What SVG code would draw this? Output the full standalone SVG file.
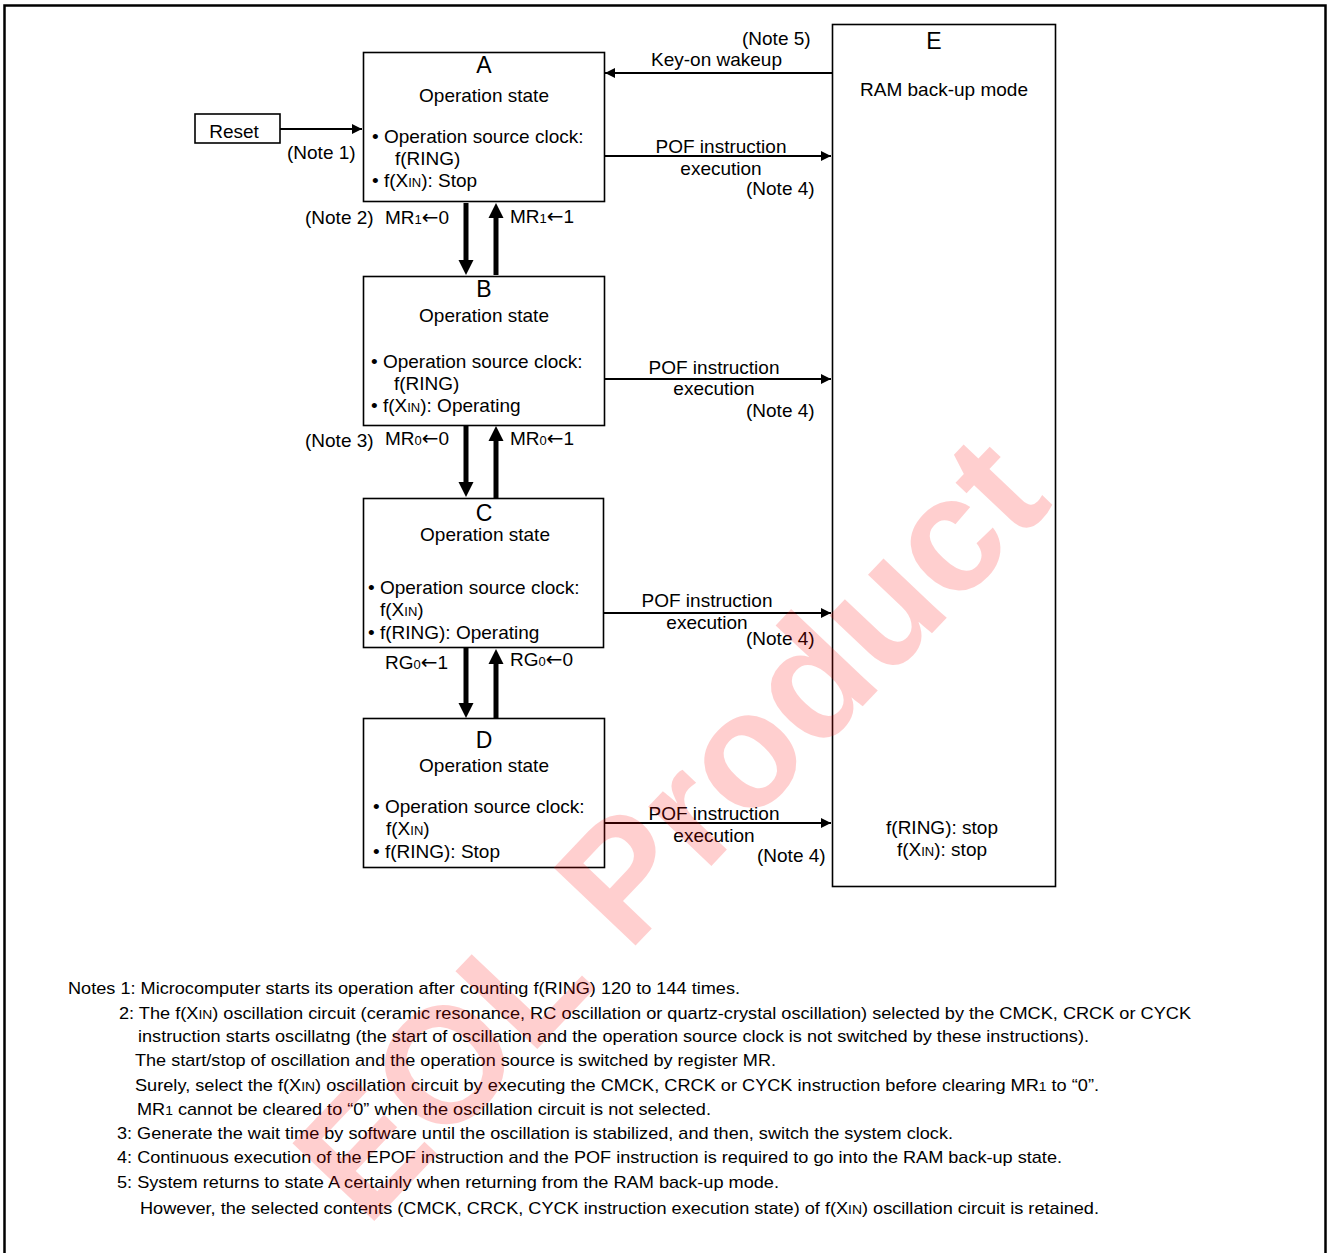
<svg xmlns="http://www.w3.org/2000/svg" width="1329" height="1253" viewBox="0 0 1329 1253">
<defs>
<style>
text{font-family:"Liberation Sans",Arial,sans-serif;font-size:19px;fill:#000}
.box{fill:#fff;stroke:#000;stroke-width:1.6}
.thin{stroke:#000;stroke-width:2;fill:none}
.thick{stroke:#000;stroke-width:5;fill:none}
.big{font-size:23px}
.c{text-anchor:middle}
.note{font-size:17px}
.sub{font-size:13px}
.arr{font-family:"DejaVu Sans",sans-serif;font-size:20px}
.wm{font-family:"Liberation Sans",Arial,sans-serif;font-weight:bold;font-size:164px;fill:#ff0000;fill-opacity:0.19}
</style>
<marker id="ah" markerUnits="userSpaceOnUse" markerWidth="12" markerHeight="10" refX="10" refY="5" orient="auto">
<path d="M0,0 L10,5 L0,10 Z" fill="#000"/>
</marker>
</defs>
<rect x="4.5" y="5.5" width="1321" height="1252" fill="#fff" stroke="#000" stroke-width="2.5"/>

<g id="connectors">
<line class="thin" x1="280" y1="129" x2="362" y2="129" marker-end="url(#ah)"/>
<line class="thin" x1="832" y1="73" x2="605" y2="73" marker-end="url(#ah)"/>
<line class="thin" x1="604" y1="156" x2="831" y2="156" marker-end="url(#ah)"/>
<line class="thin" x1="604" y1="379" x2="831" y2="379" marker-end="url(#ah)"/>
<line class="thin" x1="603" y1="613" x2="831" y2="613" marker-end="url(#ah)"/>
<line class="thin" x1="604" y1="823" x2="831" y2="823" marker-end="url(#ah)"/>
<line class="thick" x1="466" y1="203" x2="466" y2="261"/>
<path d="M458.5,260 L473.5,260 L466,275 Z"/>
<line class="thick" x1="496" y1="275" x2="496" y2="216"/>
<path d="M488.5,218 L503.5,218 L496,203 Z"/>
<line class="thick" x1="466" y1="426" x2="466" y2="483"/>
<path d="M458.5,482 L473.5,482 L466,497 Z"/>
<line class="thick" x1="496" y1="498" x2="496" y2="439"/>
<path d="M488.5,441 L503.5,441 L496,426 Z"/>
<line class="thick" x1="466" y1="648" x2="466" y2="704"/>
<path d="M458.5,703 L473.5,703 L466,718 Z"/>
<line class="thick" x1="496" y1="719" x2="496" y2="662"/>
<path d="M488.5,664 L503.5,664 L496,649 Z"/>
</g>

<g id="reset">
<rect class="box" x="195" y="114" width="85" height="29"/>
<text x="234" y="138" class="c">Reset</text>
</g>

<g id="stateA">
<rect class="box" x="363.5" y="52.5" width="241" height="149"/>
<text x="484" y="73" class="c big">A</text>
<text x="484" y="102" class="c">Operation state</text>
<text x="372" y="143">• Operation source clock:</text>
<text x="395" y="165">f(RING)</text>
<text x="372" y="187">• f(X<tspan class="sub">IN</tspan>): Stop</text>
</g>

<g id="stateB">
<rect class="box" x="363.5" y="276.5" width="241" height="149"/>
<text x="484" y="297" class="c big">B</text>
<text x="484" y="322" class="c">Operation state</text>
<text x="371" y="368">• Operation source clock:</text>
<text x="394" y="390">f(RING)</text>
<text x="371" y="412">• f(X<tspan class="sub">IN</tspan>): Operating</text>
</g>

<g id="stateC">
<rect class="box" x="363.5" y="498.5" width="240" height="149"/>
<text x="484" y="521" class="c big">C</text>
<text x="485" y="541" class="c">Operation state</text>
<text x="368" y="594">• Operation source clock:</text>
<text x="380" y="616">f(X<tspan class="sub">IN</tspan>)</text>
<text x="368" y="639">• f(RING): Operating</text>
</g>

<g id="stateD">
<rect class="box" x="363.5" y="718.5" width="241" height="149"/>
<text x="484" y="748" class="c big">D</text>
<text x="484" y="772" class="c">Operation state</text>
<text x="373" y="813">• Operation source clock:</text>
<text x="386" y="835">f(X<tspan class="sub">IN</tspan>)</text>
<text x="373" y="858">• f(RING): Stop</text>
</g>

<g id="stateE">
<rect class="box" x="832.5" y="24.5" width="223" height="862"/>
<text x="934" y="49" class="c big">E</text>
<text x="944" y="96" class="c">RAM back-up mode</text>
<text x="942" y="834" class="c">f(RING): stop</text>
<text x="942" y="856" class="c">f(X<tspan class="sub">IN</tspan>): stop</text>
</g>

<g id="labels">
<text x="287" y="159">(Note 1)</text>
<text x="742" y="45">(Note 5)</text>
<text x="651" y="66">Key-on wakeup</text>
<text x="721" y="153" class="c">POF instruction</text>
<text x="721" y="175" class="c">execution</text>
<text x="746" y="195">(Note 4)</text>
<text x="305" y="224">(Note 2)</text>
<text x="385" y="224">MR<tspan class="sub">1</tspan><tspan class="arr">←</tspan>0</text>
<text x="510" y="223">MR<tspan class="sub">1</tspan><tspan class="arr">←</tspan>1</text>
<text x="714" y="374" class="c">POF instruction</text>
<text x="714" y="395" class="c">execution</text>
<text x="746" y="417">(Note 4)</text>
<text x="305" y="447">(Note 3)</text>
<text x="385" y="445">MR<tspan class="sub">0</tspan><tspan class="arr">←</tspan>0</text>
<text x="510" y="445">MR<tspan class="sub">0</tspan><tspan class="arr">←</tspan>1</text>
<text x="707" y="607" class="c">POF instruction</text>
<text x="707" y="629" class="c">execution</text>
<text x="746" y="645">(Note 4)</text>
<text x="385" y="669">RG<tspan class="sub">0</tspan><tspan class="arr">←</tspan>1</text>
<text x="510" y="666">RG<tspan class="sub">0</tspan><tspan class="arr">←</tspan>0</text>
<text x="714" y="820" class="c">POF instruction</text>
<text x="714" y="842" class="c">execution</text>
<text x="757" y="862">(Note 4)</text>
</g>

<g id="notes">
<text class="note" x="68" y="994" textLength="672" lengthAdjust="spacingAndGlyphs">Notes 1: Microcomputer starts its operation after counting f(RING) 120 to 144 times.</text>
<text class="note" x="119" y="1019" textLength="1072" lengthAdjust="spacingAndGlyphs">2: The f(X<tspan class="sub">IN</tspan>) oscillation circuit (ceramic resonance, RC oscillation or quartz-crystal oscillation) selected by the CMCK, CRCK or CYCK</text>
<text class="note" x="138" y="1042" textLength="951" lengthAdjust="spacingAndGlyphs">instruction starts oscillatng (the start of oscillation and the operation source clock is not switched by these instructions).</text>
<text class="note" x="135" y="1066" textLength="641" lengthAdjust="spacingAndGlyphs">The start/stop of oscillation and the operation source is switched by register MR.</text>
<text class="note" x="135" y="1091" textLength="964" lengthAdjust="spacingAndGlyphs">Surely, select the f(X<tspan class="sub">IN</tspan>) oscillation circuit by executing the CMCK, CRCK or CYCK instruction before clearing MR<tspan class="sub">1</tspan> to “0”.</text>
<text class="note" x="137" y="1115" textLength="574" lengthAdjust="spacingAndGlyphs">MR<tspan class="sub">1</tspan> cannot be cleared to “0” when the oscillation circuit is not selected.</text>
<text class="note" x="117" y="1139" textLength="836" lengthAdjust="spacingAndGlyphs">3: Generate the wait time by software until the oscillation is stabilized, and then, switch the system clock.</text>
<text class="note" x="117" y="1163" textLength="945" lengthAdjust="spacingAndGlyphs">4: Continuous execution of the EPOF instruction and the POF instruction is required to go into the RAM back-up state.</text>
<text class="note" x="117" y="1188" textLength="662" lengthAdjust="spacingAndGlyphs">5: System returns to state A certainly when returning from the RAM back-up mode.</text>
<text class="note" x="140" y="1214" textLength="959" lengthAdjust="spacingAndGlyphs">However, the selected contents (CMCK, CRCK, CYCK instruction execution state) of f(X<tspan class="sub">IN</tspan>) oscillation circuit is retained.</text>
</g>

<text class="wm" transform="translate(670,828) rotate(-46.5)" x="0" y="56" text-anchor="middle">EOL Product</text>
</svg>
